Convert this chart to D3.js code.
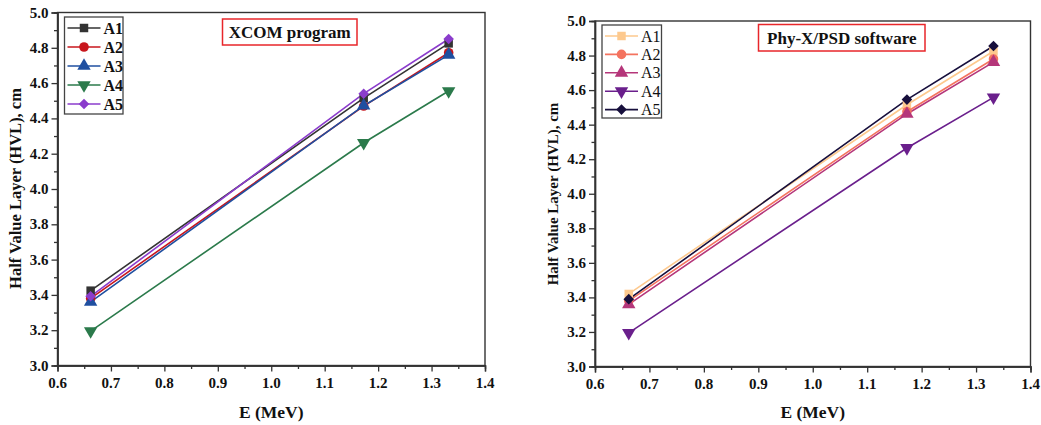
<!DOCTYPE html>
<html><head><meta charset="utf-8">
<script src="https://cdn.jsdelivr.net/npm/d3@7"></script>
<style>body{margin:0;background:#fff}svg{display:block}</style>
</head><body>
<svg id="c" width="1041" height="425"></svg>
<script>
const energies = [0.662, 1.173, 1.332];
const seriesNames = ["A1","A2","A3","A4","A5"];
const xcomA1 = [3.424, 4.515, 4.825];
const xcomA2 = [3.380, 4.470, 4.772];
const xcomA3 = [3.360, 4.472, 4.760];
const xcomA4 = [3.195, 4.262, 4.555];
const xcomA5 = [3.392, 4.540, 4.850];
const phyA1 = [3.420, 4.515, 4.825];
const phyA2 = [3.380, 4.475, 4.780];
const phyA3 = [3.360, 4.462, 4.762];
const phyA4 = [3.195, 4.265, 4.558];
const phyA5 = [3.390, 4.545, 4.855];
const xTicks = [0.6,0.7,0.8,0.9,1.0,1.1,1.2,1.3,1.4];
const yTicks = [3.0,3.2,3.4,3.6,3.8,4.0,4.2,4.4,4.6,4.8,5.0];
const xcomColors = ["#333333","#c8161d","#1f4fa0","#2b7a4b","#8b3ccc"];
const phyColors = ["#fdc98e","#f4735f","#b5367a","#6a1f8c","#170f3c"];
const markers = ["square","circle","tri","tridown","diamond"];
const FONT = '"Liberation Serif", "Times New Roman", Times, serif';

const svg = d3.select("#c");
const fmt = d3.format(".1f");

function sym(type){
  if(type==="square") return d3.symbol().type(d3.symbolSquare).size(72)();
  if(type==="circle") return d3.symbol().type(d3.symbolCircle).size(72)();
  if(type==="tri" || type==="tridown") return d3.symbol().type(d3.symbolTriangle).size(78)();
  if(type==="diamond") return d3.symbol().type(d3.symbolSquare).size(56)();
}
function rot(type){
  if(type==="tridown") return " rotate(180)";
  if(type==="diamond") return " rotate(45)";
  return "";
}

function drawPanel(cfg){
  const g = svg.append("g");
  const x = d3.scaleLinear().domain([0.6,1.4]).range([cfg.l, cfg.r]);
  const y = d3.scaleLinear().domain([3.0,5.0]).range([cfg.b, cfg.t]);
  g.append("rect").attr("x",cfg.l).attr("y",cfg.t).attr("width",cfg.r-cfg.l).attr("height",cfg.b-cfg.t)
    .attr("fill","none").attr("stroke","#333").attr("stroke-width",1.4);
  const xa = g.append("g").attr("transform",`translate(0,${cfg.b})`)
    .call(d3.axisBottom(x).tickValues(xTicks).tickFormat("").tickSize(6));
  const xm = g.append("g").attr("transform",`translate(0,${cfg.b})`)
    .call(d3.axisBottom(x).tickValues(d3.range(0.65,1.4,0.1)).tickFormat("").tickSize(3.5));
  const ya = g.append("g").attr("transform",`translate(${cfg.l},0)`)
    .call(d3.axisLeft(y).tickValues(yTicks).tickFormat("").tickSize(6));
  const ym = g.append("g").attr("transform",`translate(${cfg.l},0)`)
    .call(d3.axisLeft(y).tickValues(d3.range(3.1,5.0,0.2)).tickFormat("").tickSize(3.5));
  [xa,xm,ya,ym].forEach(a=>{
    a.select(".domain").attr("stroke","#333").attr("stroke-width",1.4);
    a.selectAll(".tick line").attr("stroke","#333").attr("stroke-width",1.3);
  });
  // tick labels
  g.append("g").selectAll("text").data(xTicks).join("text")
    .attr("x",d=>x(d)).attr("y",cfg.b+22).attr("text-anchor","middle")
    .attr("font-family",FONT).attr("font-weight","bold").attr("font-size",15).attr("fill","#111")
    .text(d=>fmt(d));
  g.append("g").selectAll("text").data(yTicks).join("text")
    .attr("x",cfg.l-9).attr("y",d=>y(d)+5).attr("text-anchor","end")
    .attr("font-family",FONT).attr("font-weight","bold").attr("font-size",15).attr("fill","#111")
    .text(d=>fmt(d));
  g.append("text").attr("x",(cfg.l+cfg.r)/2).attr("y",418).attr("text-anchor","middle")
    .attr("font-family",FONT).attr("font-weight","bold").attr("font-size",17.5).attr("fill","#111").text("E (MeV)");
  g.append("text").attr("transform",`translate(${cfg.yTitleX},${cfg.yTitleY}) rotate(-90)`)
    .attr("text-anchor","middle").attr("font-family",FONT).attr("font-weight","bold").attr("font-size",cfg.yTitleSize).attr("fill","#111")
    .text("Half Value Layer (HVL), cm");
  const line = d3.line().x((d,i)=>x(energies[i])).y(d=>y(d));
  cfg.data.forEach((vals,k)=>{
    g.append("path").datum(vals).attr("d",line).attr("fill","none").attr("stroke",cfg.colors[k]).attr("stroke-width",1.6);
  });
  cfg.data.forEach((vals,k)=>{
    vals.forEach((v,i)=>{
      g.append("path").attr("d",sym(markers[k]))
        .attr("transform",`translate(${x(energies[i])},${y(v)})${rot(markers[k])}`)
        .attr("fill",cfg.colors[k]);
    });
  });
  const lg = g.append("g");
  lg.append("rect").attr("x",cfg.lgX).attr("y",cfg.lgY).attr("width",cfg.lgW).attr("height",cfg.lgH)
    .attr("fill","#fff").attr("stroke","#444").attr("stroke-width",1.3);
  seriesNames.forEach((n,k)=>{
    const yy = cfg.lgY + 11 + k*cfg.lgStep;
    lg.append("line").attr("x1",cfg.lgX+3).attr("x2",cfg.lgX+36).attr("y1",yy).attr("y2",yy)
      .attr("stroke",cfg.colors[k]).attr("stroke-width",1.6);
    lg.append("path").attr("d",sym(markers[k]))
      .attr("transform",`translate(${cfg.lgX+19.5},${yy})${rot(markers[k])}`)
      .attr("fill",cfg.colors[k]);
    lg.append("text").attr("x",cfg.lgX+39).attr("y",yy+5.5).attr("font-family",FONT).attr("font-size",16)
      .attr("font-weight",cfg.lgBold?"bold":"normal").attr("fill","#111").text(n);
  });
  g.append("rect").attr("x",cfg.tbX).attr("y",cfg.tbY).attr("width",cfg.tbW).attr("height",cfg.tbH)
    .attr("fill","#fff").attr("stroke","#e8262a").attr("stroke-width",1.5);
  g.append("text").attr("x",cfg.tbX+cfg.tbW/2).attr("y",cfg.tbY+cfg.tbH/2+6).attr("text-anchor","middle")
    .attr("font-family",FONT).attr("font-weight","bold").attr("font-size",17).attr("fill","#111").text(cfg.title);
}

drawPanel({l:57.5,r:485,t:12.5,b:365.5,yTitleX:21,yTitleY:188.5,yTitleSize:16.5,
  data:[xcomA1,xcomA2,xcomA3,xcomA4,xcomA5],colors:xcomColors,
  lgX:64.5,lgY:17,lgW:58.5,lgH:97,lgStep:19,lgBold:true,
  tbX:222.5,tbY:19,tbW:134.5,tbH:26,title:"XCOM program"});
drawPanel({l:595,r:1030.5,t:21,b:366.5,yTitleX:558,yTitleY:194,yTitleSize:15,
  data:[phyA1,phyA2,phyA3,phyA4,phyA5],colors:phyColors,
  lgX:602,lgY:25,lgW:59.5,lgH:93,lgStep:18.4,lgBold:false,
  tbX:758.5,tbY:24.5,tbW:166.5,tbH:26.5,title:"Phy-X/PSD software"});
</script>
</body></html>
